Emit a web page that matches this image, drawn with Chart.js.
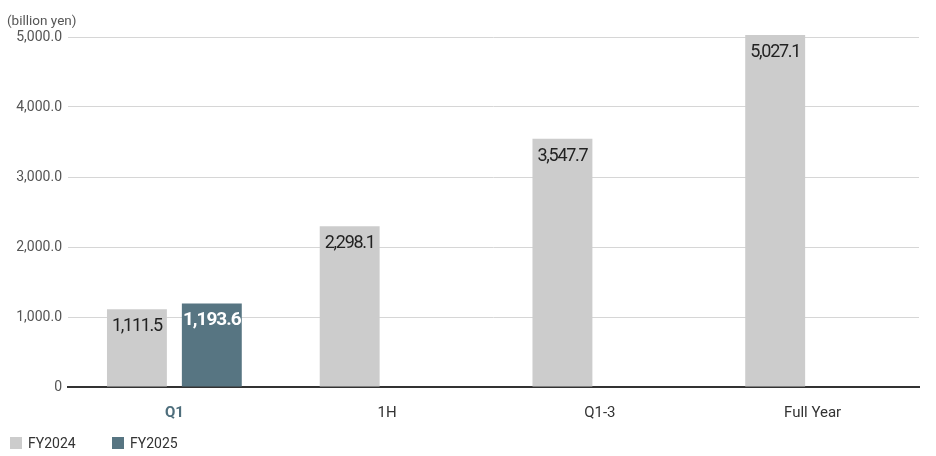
<!DOCTYPE html>
<html>
<head>
<meta charset="utf-8">
<script src="https://cdn.jsdelivr.net/npm/chart.js@4"></script>
<style>
  html, body { margin: 0; padding: 0; background: #fff; }
  #wrap { width: 936px; height: 456px; position: relative; }
</style>
</head>
<body>
<div id="wrap"><canvas id="barChart"></canvas></div>
<script>
// data
const categories = ["Q1", "1H", "Q1-3", "Full Year"];
const fy2024 = [1111.5, 2298.1, 3547.7, 5027.1];
const fy2025 = [1193.6, null, null, null];
const seriesNames = ["FY2024", "FY2025"];
const unitLabel = "(billion yen)";
const yMax = 5000;
const yStep = 1000;

const grey = "#cccccc";
const slate = "#577582";

function fmt(v) {
  return v.toLocaleString("en-US", { minimumFractionDigits: 1, maximumFractionDigits: 1 });
}

// value labels inside the top of each bar
const barLabels = {
  id: "barLabels",
  afterDatasetsDraw(chart) {
    const ctx = chart.ctx;
    chart.data.datasets.forEach((ds, i) => {
      const meta = chart.getDatasetMeta(i);
      meta.data.forEach((bar, j) => {
        const v = ds.data[j];
        if (v == null) return;
        ctx.save();
        ctx.textAlign = "center";
        ctx.textBaseline = "alphabetic";
        if (i === 1) {
          ctx.fillStyle = "#ffffff";
          ctx.font = "bold 19px Roboto";
          ctx.letterSpacing = "-1px";
        } else {
          ctx.fillStyle = "#222222";
          ctx.font = "18px Roboto";
          ctx.letterSpacing = "-1.3px";
        }
        ctx.fillText(fmt(v), bar.x, bar.y + 22);
        ctx.restore();
      });
    });
  }
};

// unit text and legend
const extras = {
  id: "extras",
  afterDraw(chart) {
    const ctx = chart.ctx;
    ctx.save();
    ctx.fillStyle = "#555555";
    ctx.font = "13.5px Roboto";
    ctx.textBaseline = "alphabetic";
    ctx.textAlign = "left";
    ctx.fillText(unitLabel, 7, 25);

    const xs = [10, 112];
    chart.data.datasets.forEach((ds, i) => {
      ctx.fillStyle = ds.backgroundColor;
      ctx.fillRect(xs[i], 437, 12, 12);
      ctx.fillStyle = "#333333";
      ctx.font = "14px Roboto";
      ctx.textBaseline = "middle";
      ctx.fillText(ds.label, xs[i] + 18, 444);
    });
    ctx.restore();
  }
};

const ctx = document.getElementById("barChart").getContext("2d");
const chart = new Chart(ctx, {
  type: "bar",
  data: {
    labels: categories,
    datasets: [
      { label: seriesNames[0], data: fy2024, backgroundColor: grey, clip: false },
      { label: seriesNames[1], data: fy2025, backgroundColor: slate, clip: false }
    ]
  },
  options: {
    responsive: true,
    maintainAspectRatio: false,
    animation: false,
    datasets: { bar: { categoryPercentage: 0.704, barPercentage: 0.8 } },
    layout: { padding: { top: 37, right: 17, left: 0, bottom: 0 } },
    plugins: {
      legend: { display: false },
      tooltip: { enabled: false }
    },
    scales: {
      x: {
        grid: { display: false, drawTicks: false },
        border: { color: "#333333", width: 2 },
        ticks: {
          padding: 17,
          color: (c) => (c.index === 0 ? "#4e6e7c" : "#333333"),
          font: (c) => (c.index === 0 ? { family: "Roboto", size: 15, weight: "bold" } : { family: "Roboto", size: 15 })
        },
        afterFit(scale) { scale.height = 69; }
      },
      y: {
        min: 0,
        max: yMax,
        grid: { color: "#d6d6d6", lineWidth: 1, drawTicks: false },
        border: { display: false },
        ticks: {
          stepSize: yStep,
          padding: 6,
          color: "#555555",
          font: { family: "Roboto", size: 14 },
          callback: (v) => (v === 0 ? "0" : fmt(v))
        },
        afterFit(scale) { scale.width = 68; }
      }
    }
  },
  plugins: [barLabels, extras]
});
</script>
</body>
</html>
